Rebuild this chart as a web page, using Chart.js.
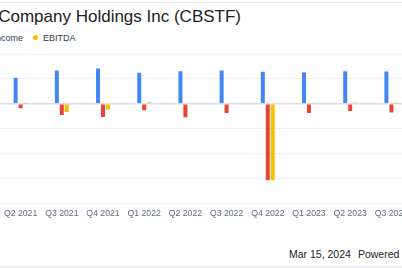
<!DOCTYPE html>
<html>
<head>
<meta charset="utf-8">
<script src="https://cdn.jsdelivr.net/npm/chart.js@4.4.1/dist/chart.umd.min.js"></script>
<style>
  html, body { margin: 0; padding: 0; }
  body {
    width: 402px; height: 268px; overflow: hidden; position: relative;
    background: #fff; font-family: "Liberation Sans", Arial, sans-serif;
  }
  .topline { position: absolute; left: 0; right: 0; top: 2px; border-top: 1px solid #e6e7ee; }
  .title {
    position: absolute; right: 161px; top: 8px; white-space: nowrap;
    font-size: 17px; line-height: 17px; color: #222;
  }
  .legend { position: absolute; top: 33px; font-size: 9px; line-height: 10px; color: #333a4c; white-space: nowrap; }
  .legend .dot { display: inline-block; width: 5px; height: 5px; border-radius: 50%; margin-right: 5px; vertical-align: 1px; }
  .legend .item { margin-left: 10px; }
  .footer { position: absolute; left: 289px; top: 248px; font-size: 10.5px; line-height: 12px; color: #222; white-space: nowrap; }
  .footer span + span { margin-left: 7px; }
  .bottomband { position: absolute; left: 0; right: 0; top: 266px; height: 2px; background: #eef0f3; }
  .chart-box { position: absolute; left: -1px; top: 0; width: 414px; height: 224px; }
</style>
</head>
<body>
<div class="topline"></div>
<div class="title">The Cannabist Company Holdings Inc (CBSTF)</div>
<div class="legend" style="right: 379px;">
  <span class="dot" style="background:#4285f4"></span>Revenue<span class="item"></span><span class="dot" style="background:#ea4335"></span>Net Income
</div>
<div class="legend" style="left: 33px;">
  <span class="dot" style="background:#fbbc04"></span>EBITDA
</div>
<div class="chart-box"><canvas id="chart"></canvas></div>
<div class="footer"><span>Mar 15, 2024</span><span>Powered by GuruFocus</span></div>
<div class="bottomband"></div>

<script>
// quarterly figures, millions USD
const quarters = ['Q2 2021', 'Q3 2021', 'Q4 2021', 'Q1 2022', 'Q2 2022', 'Q3 2022', 'Q4 2022', 'Q1 2023', 'Q2 2023', 'Q3 2023']
const revenue = [105, 134, 142, 125, 131, 134, 129, 126, 131, 130]
const netIncome = [-18, -45, -53, -26, -54, -37, -306, -37, -29, -35]
const ebitda = [1, -33, -23, 6, -3, 4, -306, 2, 5, 1]
const yTicks = [200, 100, 0, -100, -200, -300, -400]

const ctx = document.getElementById('chart')

new Chart(ctx, {
  type: 'bar',
  data: {
    labels: quarters,
    datasets: [
      { label: 'Revenue', data: revenue, backgroundColor: '#4285f4' },
      { label: 'Net Income', data: netIncome, backgroundColor: '#ea4335' },
      { label: 'EBITDA', data: ebitda, backgroundColor: '#fbbc04' }
    ]
  },
  options: {
    responsive: true,
    maintainAspectRatio: false,
    animation: false,
    datasets: {
      bar: { categoryPercentage: 0.3623, barPercentage: 0.8 }
    },
    layout: { padding: { top: 54, left: 0, right: 0, bottom: 0 } },
    plugins: {
      legend: { display: false },
      tooltip: { enabled: false }
    },
    scales: {
      x: {
        grid: { display: false, drawTicks: false },
        border: { display: false },
        ticks: {
          color: '#5d6882',
          font: { family: 'Liberation Sans', size: 8.7 },
          padding: 5,
          maxRotation: 0,
          autoSkip: false
        }
      },
      y: {
        min: Math.min(...yTicks),
        max: Math.max(...yTicks),
        afterBuildTicks: scale => { scale.ticks = yTicks.map(v => ({ value: v })) },
        grid: {
          drawTicks: false,
          color: c => (c.tick && c.tick.value === 0 ? '#dcdde5' : '#eef0f5'),
          lineWidth: c => (c.tick && c.tick.value === 0 ? 1.5 : 1)
        },
        border: { display: false },
        ticks: { display: false }
      }
    }
  }
})
</script>
</body>
</html>
